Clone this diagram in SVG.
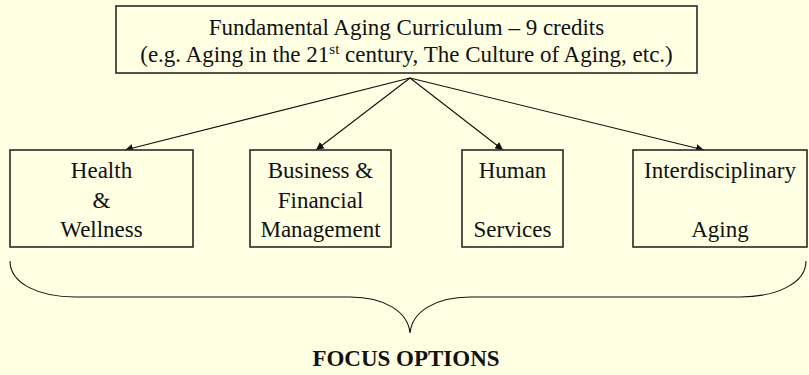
<svg xmlns="http://www.w3.org/2000/svg" width="809" height="375" viewBox="0 0 809 375">
  <style>
    .box { fill: #FFFFE3; stroke: #2a2a2a; stroke-width: 1.6; }
    .t { font-family: "Liberation Serif", "Times New Roman", serif; font-size: 23px; fill: #111; text-anchor: middle; }
    .b { font-weight: bold; }
    .conn { stroke: #111; stroke-width: 1.1; fill: none; }
  </style>
  <defs>
    <marker id="arr" viewBox="0 0 10 10" refX="10" refY="5" markerWidth="8" markerHeight="8" markerUnits="userSpaceOnUse" orient="auto">
      <path d="M0,0 L10,5 L0,10 z" fill="#111"/>
    </marker>
  </defs>
  <rect width="809" height="375" fill="#FFFFE3"/>

  <g id="connectors">
    <line class="conn" x1="410" y1="78" x2="125" y2="150" marker-end="url(#arr)"/>
    <line class="conn" x1="410" y1="78" x2="316" y2="150" marker-end="url(#arr)"/>
    <line class="conn" x1="410" y1="78" x2="503" y2="150" marker-end="url(#arr)"/>
    <line class="conn" x1="410" y1="78" x2="704" y2="150" marker-end="url(#arr)"/>
  </g>

  <g id="fundamental">
    <rect class="box" x="116" y="6" width="581" height="67"/>
    <text class="t" x="406.5" y="35">Fundamental Aging Curriculum – 9 credits</text>
    <text class="t" x="406.5" y="62">(e.g. Aging in the 21<tspan font-size="15" dy="-8">st</tspan><tspan dy="8"> century, The Culture of Aging, etc.)</tspan></text>
  </g>

  <g id="health">
    <rect class="box" x="10" y="150" width="183" height="97"/>
    <text class="t" x="101.5" y="178">Health</text>
    <text class="t" x="101.5" y="208">&amp;</text>
    <text class="t" x="101.5" y="237">Wellness</text>
  </g>

  <g id="business">
    <rect class="box" x="250" y="150" width="141" height="97"/>
    <text class="t" x="320.5" y="178">Business &amp;</text>
    <text class="t" x="320.5" y="208">Financial</text>
    <text class="t" x="320.5" y="237">Management</text>
  </g>

  <g id="human">
    <rect class="box" x="462" y="150" width="101" height="97"/>
    <text class="t" x="512.5" y="178">Human</text>
    <text class="t" x="512.5" y="237">Services</text>
  </g>

  <g id="interdisciplinary">
    <rect class="box" x="633" y="150" width="174" height="97"/>
    <text class="t" x="720" y="178">Interdisciplinary</text>
    <text class="t" x="720" y="237">Aging</text>
  </g>

  <g id="focus">
    <path class="conn" d="M10,261 C10,284 40,297 75,297 L350,297 C385,297 408,312 410,333 C412,312 435,297 470,297 L740,297 C775,297 806,284 806,261"/>
    <text class="t b" x="406" y="366">FOCUS OPTIONS</text>
  </g>
</svg>
